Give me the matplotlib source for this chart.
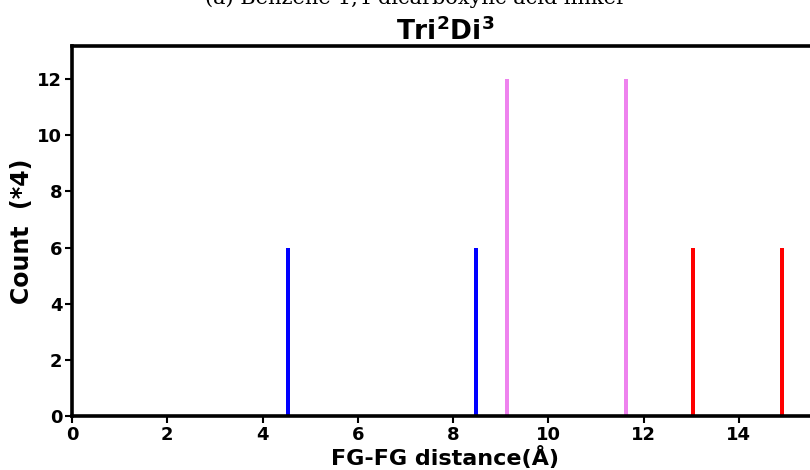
import matplotlib

matplotlib.use("Agg")
import matplotlib.pyplot as plt

# FG-FG distances (Angstrom) and counts, grouped by colour
blue_x = [4.53, 8.48]
blue_y = [6, 6]
violet_x = [9.13, 11.63]
violet_y = [12, 12]
red_x = [13.04, 14.90]
red_y = [6, 6]

xticks = [0, 2, 4, 6, 8, 10, 12, 14]
yticks = [0, 2, 4, 6, 8, 10, 12]

fig = plt.figure(figsize=(8.1, 4.7), dpi=100)
ax = fig.add_axes([72 / 810, 54 / 470, 746 / 810, 370 / 470])

w = 0.085
ax.bar(blue_x, blue_y, w, color="blue")
ax.bar(violet_x, violet_y, w, color="violet")
ax.bar(red_x, red_y, w, color="red")

ax.set_xlim(0, 15.66)
ax.set_ylim(0, 13.18)
ax.set_xticks(xticks)
ax.set_yticks(yticks)
for lab in ax.get_xticklabels() + ax.get_yticklabels():
    lab.set_fontweight("bold")
ax.tick_params(labelsize=13, width=1.5, length=5, pad=2)
for s in ax.spines.values():
    s.set_linewidth(2.6)

ax.set_xlabel("FG-FG distance(Å)", fontsize=16, fontweight="bold", labelpad=2)
ax.set_ylabel("Count  (*4)", fontsize=17, fontweight="bold", labelpad=2)
ax.set_title("Tri$^\\mathbf{2}$Di$^\\mathbf{3}$", fontsize=19,
             fontweight="bold", pad=3)

# figure caption, cut by the top edge as in the original crop
fig.text(415 / 810, 1 + 2 / 470, "(a) Benzene-1,4-dicarboxylic acid linker",
         ha="center", va="center", fontsize=15, family="DejaVu Serif")

fig.savefig("out.png", dpi=100)
